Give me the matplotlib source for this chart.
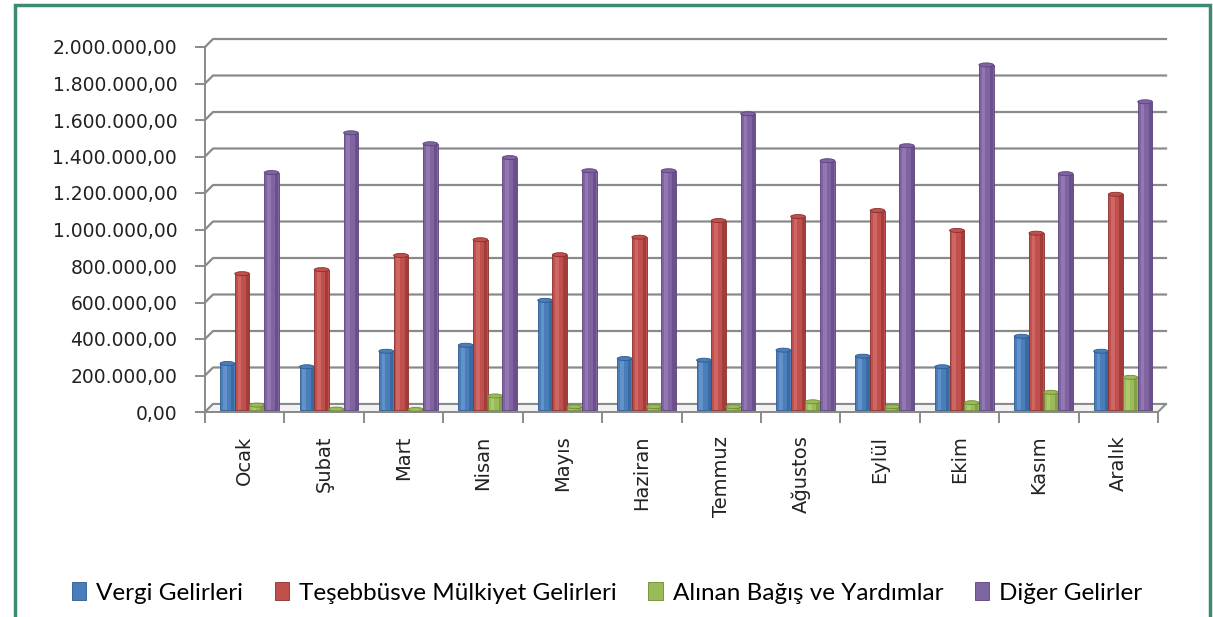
import numpy as np
import matplotlib.pyplot as plt
from matplotlib.patches import Polygon, Rectangle, Ellipse
from matplotlib.ticker import FuncFormatter

months = ["Ocak", "Şubat", "Mart", "Nisan", "Mayıs", "Haziran",
          "Temmuz", "Ağustos", "Eylül", "Ekim", "Kasım", "Aralık"]
series_names = ["Vergi Gelirleri", "Teşebbüsve Mülkiyet Gelirleri",
                "Alınan Bağış ve Yardımlar", "Diğer Gelirler"]

vergi = [255000, 237000, 322000, 355000, 601000, 282000,
         273000, 328000, 295000, 237000, 404000, 322000]
tesebbus = [747000, 769000, 847000, 933000, 851000, 947000,
            1038000, 1060000, 1093000, 984000, 969000, 1182000]
bagis = [27000, 5000, 3000, 77000, 18000, 18000,
         18000, 45000, 18000, 40000, 97000, 179000]
diger = [1301000, 1519000, 1459000, 1383000, 1311000, 1311000,
         1623000, 1366000, 1448000, 1891000, 1295000, 1689000]

colors = ["#4a7ebb", "#c0504d", "#9bbb59", "#8064a2"]
dark = ["#2c5a8f", "#8c2e2b", "#6e8a35", "#5a4379"]
light = ["#7aa6d8", "#dc7d7a", "#bcd785", "#a58cc4"]

W, H = 1213, 617
fig = plt.figure(figsize=(W / 100, H / 100), dpi=100)
ax = fig.add_axes([205 / W, 205 / H, 953 / W, 365 / H])

n = len(months)
x = np.arange(n)
ax.set_xlim(-0.5, n - 0.5)
ax.set_ylim(0, 2000000)

# 3d-ish depth offsets (8 px right, 8 px up)
px_x = 1 / (953 / n)
px_y = 2000000 / 365
ddx, ddy = 8 * px_x, 8 * px_y

# back wall gridlines
for v in np.arange(0, 2000001, 200000):
    ax.plot([-0.5, -0.5 + ddx, n - 0.5 + ddx], [v, v + ddy, v + ddy],
            color="#8a8a8a", lw=1.6, clip_on=False, zorder=1)

# floor
floor = Polygon([[-0.5, 0], [n - 0.5, 0], [n - 0.5 + ddx, ddy], [-0.5 + ddx, ddy]],
                closed=True, facecolor="#f2f2f2", edgecolor="#8a8a8a", lw=1.4,
                clip_on=False, zorder=2)
ax.add_patch(floor)

# bars
bw = 0.185
shift = 0.06
base = 2 * px_y
all_series = [vergi, tesebbus, bagis, diger]
for i, vals in enumerate(all_series):
    pos = x + shift + (i - 1.5) * bw
    ax.bar(pos, vals, bw, bottom=base, color=colors[i], edgecolor=dark[i],
           lw=0.6, zorder=3 + i * 0.1, label=series_names[i])
    ax.bar(pos - bw * 0.18, vals, bw * 0.25, bottom=base, color=light[i],
           alpha=0.5, lw=0, zorder=3.02 + i * 0.1)
    ax.bar(pos + bw * 0.36, vals, bw * 0.22, bottom=base, color=dark[i],
           alpha=0.55, lw=0, zorder=3.02 + i * 0.1)
    for p, v in zip(pos, vals):
        ax.add_patch(Ellipse((p, base + v), bw, 4 * px_y, facecolor=colors[i],
                             edgecolor=dark[i], lw=0.6, zorder=3.05 + i * 0.1,
                             clip_on=False))

# axes styling
for s in ["top", "right"]:
    ax.spines[s].set_visible(False)
for s in ["left", "bottom"]:
    ax.spines[s].set_color("#8a8a8a")
    ax.spines[s].set_linewidth(1.4)

ax.set_yticks(np.arange(0, 2000001, 200000))
ax.yaxis.set_major_formatter(FuncFormatter(
    lambda v, p: f"{v:,.2f}".replace(",", "X").replace(".", ",").replace("X", ".")))
ax.tick_params(axis="y", length=7, width=1.4, color="#8a8a8a", pad=13,
               labelsize=13.5, labelcolor="#222222")

ax.set_xticks(x)
ax.set_xticklabels(months, rotation=90, va="top", ha="center")
ax.set_xticks(np.arange(-0.5, n, 1), minor=True)
ax.tick_params(axis="x", which="major", length=0, pad=17, labelsize=14,
               labelcolor="#222222")
ax.tick_params(axis="x", which="minor", length=8, width=1.4, color="#8a8a8a")

fig.legend(loc="center", bbox_to_anchor=(607 / W, 1 - 593 / H), ncol=4,
           frameon=False, handlelength=0.6, handleheight=0.7,
           handletextpad=0.4, columnspacing=1.3,
           prop={"family": "Lato", "size": 17.5})

# frame around the figure
fig.patches.append(Rectangle((15 / W, -0.05), 1195 / W, 1 - 5 / H + 0.05,
                             transform=fig.transFigure, fill=False,
                             edgecolor="#3d8a74", lw=2.5))

plt.savefig("out.png", dpi=100)
